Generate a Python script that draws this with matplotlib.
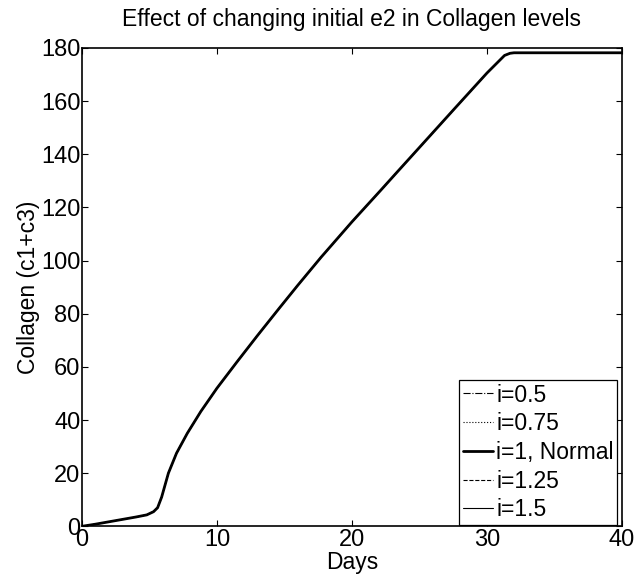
import matplotlib
matplotlib.use('Agg')
import matplotlib.pyplot as plt

# Collagen (c1+c3) over time; all five runs overlap
DAYS = [0, 1, 2, 3, 4, 4.8, 5.3, 5.6, 5.9, 6.4, 7.0, 7.8, 8.8, 10, 11.5, 13,
        14.6, 16, 17.7, 20, 22.1, 23.2, 25, 27.6, 30, 31.3, 31.7, 32, 40]
COLLAGEN = [0, 0.8, 1.7, 2.6, 3.5, 4.3, 5.5, 7.0, 11, 20, 27.5, 35, 43.2, 52,
            62, 71.8, 82, 90.8, 101.2, 114.6, 126.3, 132.5, 142.6, 157.2,
            170.6, 177.2, 178, 178.2, 178.2]

LABELS = ['i=0.5', 'i=0.75', 'i=1, Normal', 'i=1.25', 'i=1.5']
SERIES = [COLLAGEN, COLLAGEN, COLLAGEN, COLLAGEN, COLLAGEN]
STYLES = ['-.', ':', '-', '--', '-']
WIDTHS = [0.8, 0.8, 2.0, 0.8, 0.8]

XTICKS = [0, 10, 20, 30, 40]
YTICKS = [0, 20, 40, 60, 80, 100, 120, 140, 160, 180]

plt.rcParams['font.family'] = ['Liberation Sans', 'DejaVu Sans']

fig = plt.figure(figsize=(6.39, 5.78), dpi=100)
ax = fig.add_axes([82 / 639, 1 - 526.3 / 578, 540 / 639, 478.3 / 578])

for vals, lab, ls, lw in zip(SERIES, LABELS, STYLES, WIDTHS):
    ax.plot(DAYS, vals, ls, color='black', linewidth=lw, label=lab,
            solid_joinstyle='round', solid_capstyle='round')

ax.set_xlim(0, 40)
ax.set_ylim(0, 180)
ax.set_xticks(XTICKS)
ax.set_yticks(YTICKS)
ax.tick_params(direction='in', length=4, width=0.8, top=True, right=True,
               labelsize=17, pad=1)
ax.tick_params(axis='x', pad=2)
for sp in ax.spines.values():
    sp.set_linewidth(1.2)

ax.set_title('Effect of changing initial e2 in Collagen levels', fontsize=16.5, pad=16)
ax.set_xlabel('Days', fontsize=16.5, labelpad=0)
ax.set_ylabel('Collagen (c1+c3)', fontsize=16.5, labelpad=1)

leg = ax.legend(loc='lower right', bbox_to_anchor=(0.9907, 0.003),
                borderaxespad=0, fontsize=16.5, handlelength=1.3,
                handletextpad=0.15, labelspacing=0.25, borderpad=0.15,
                fancybox=False, framealpha=1, edgecolor='black')
leg.get_frame().set_linewidth(0.9)

fig.savefig('out.png', dpi=100)
